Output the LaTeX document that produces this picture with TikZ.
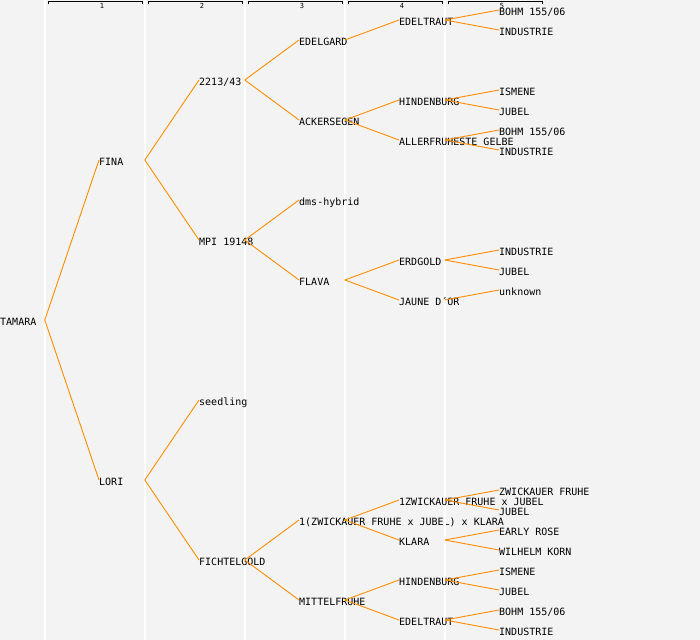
\documentclass[tikz,border=0pt]{standalone}
\usepackage{fontspec}
\newfontfamily\pmono{DejaVu Sans Mono}
\definecolor{bgc}{HTML}{F3F3F3}
\definecolor{lineor}{HTML}{FF8C00}
\tikzset{
  lbl/.style={anchor=west, inner sep=0pt, text height=11.3bp, text depth=0pt, font=\pmono\fontsize{10bp}{12bp}\selectfont},
  hdr/.style={inner sep=0pt, font=\pmono\fontsize{7bp}{8bp}\selectfont},
  edge/.style={draw=lineor, line width=0.9bp},
  colline/.style={draw=white, line width=1.4bp},
  brk/.style={draw=black, line width=0.8bp}
}
\begin{document}
\begin{tikzpicture}[x=1bp,y=-1bp]
\useasboundingbox (0,0) rectangle (700,640);
\fill[bgc] (0,0) rectangle (700,640);
% column coordinates
\coordinate (c0) at (44.8,0);
\coordinate (c1) at (144.8,0);
\coordinate (c2) at (244.8,0);
\coordinate (c3) at (344.8,0);
\coordinate (c4) at (444.8,0);
% header
\foreach \k in {1,...,5}{
  \draw[brk] ({48+100*(\k-1)},4.5) -- ({48+100*(\k-1)},1.5) -- ({142+100*(\k-1)},1.5) -- ({142+100*(\k-1)},4.5);
  \node[hdr] (h\k) at ({102+100*(\k-1)},6.2) {\k};
}
% level 0
\draw[colline] (c0) -- ([yshift=-640bp]c0);
\node[lbl] (tam) at (0,320) {TAMARA};
% level 1
\draw[colline] (c1) -- ([yshift=-640bp]c1);
\node[lbl] (fina) at (99,160) {FINA};
\node[lbl] (lori) at (99,480) {LORI};
% level 2
\draw[colline] (c2) -- ([yshift=-640bp]c2);
\node[lbl] (n2a) at (199,80) {2213/43};
\node[lbl] (mpi) at (199,240) {MPI 19148};
\node[lbl] (seed) at (199,400) {seedling};
\node[lbl] (fich) at (199,560) {FICHTELGOLD};
% level 3
\draw[colline] (c3) -- ([yshift=-640bp]c3);
\node[lbl] (edelg) at (299,40) {EDELGARD};
\node[lbl] (acker) at (299,120) {ACKERSEGEN};
\node[lbl] (dms) at (299,200) {dms-hybrid};
\node[lbl] (flava) at (299,280) {FLAVA};
\node[lbl] (zk) at (299,520) {1(ZWICKAUER FRUHE x JUBEL) x KLARA};
\node[lbl] (mittel) at (299,600) {MITTELFRUHE};
% level 4
\draw[colline] (c4) -- ([yshift=-640bp]c4);
\node[lbl] (edelta) at (399,20) {EDELTRAUT};
\node[lbl] (hinda) at (399,100) {HINDENBURG};
\node[lbl] (aller) at (399,140) {ALLERFRUHESTE GELBE};
\node[lbl] (erd) at (399,260) {ERDGOLD};
\node[lbl] (jaune) at (399,300) {JAUNE D´OR};
\node[lbl] (zj) at (399,500) {1ZWICKAUER FRUHE x JUBEL};
\node[lbl] (klara) at (399,540) {KLARA};
\node[lbl] (hindb) at (399,580) {HINDENBURG};
\node[lbl] (edeltb) at (399,620) {EDELTRAUT};
% level 5
\node[lbl] (bohma) at (499,10) {BOHM 155/06};
\node[lbl] (inda) at (499,30) {INDUSTRIE};
\node[lbl] (isma) at (499,90) {ISMENE};
\node[lbl] (juba) at (499,110) {JUBEL};
\node[lbl] (bohmb) at (499,130) {BOHM 155/06};
\node[lbl] (indb) at (499,150) {INDUSTRIE};
\node[lbl] (indc) at (499,250) {INDUSTRIE};
\node[lbl] (jubb) at (499,270) {JUBEL};
\node[lbl] (unk) at (499,290) {unknown};
\node[lbl] (zf) at (499,490) {ZWICKAUER FRUHE};
\node[lbl] (jubc) at (499,510) {JUBEL};
\node[lbl] (early) at (499,530) {EARLY ROSE};
\node[lbl] (wk) at (499,550) {WILHELM KORN};
\node[lbl] (ismb) at (499,570) {ISMENE};
\node[lbl] (jubd) at (499,590) {JUBEL};
\node[lbl] (bohmc) at (499,610) {BOHM 155/06};
\node[lbl] (indd) at (499,630) {INDUSTRIE};
% connectors
\draw[edge] (c0 |- tam.west) -- (fina.west);
\draw[edge] (c0 |- tam.west) -- (lori.west);
\draw[edge] (c1 |- fina.west) -- (n2a.west);
\draw[edge] (c1 |- fina.west) -- (mpi.west);
\draw[edge] (c1 |- lori.west) -- (seed.west);
\draw[edge] (c1 |- lori.west) -- (fich.west);
\draw[edge] (c2 |- n2a.west) -- (edelg.west);
\draw[edge] (c2 |- n2a.west) -- (acker.west);
\draw[edge] (c2 |- mpi.west) -- (dms.west);
\draw[edge] (c2 |- mpi.west) -- (flava.west);
\draw[edge] (c2 |- fich.west) -- (zk.west);
\draw[edge] (c2 |- fich.west) -- (mittel.west);
\draw[edge] (c3 |- edelg.west) -- (edelta.west);
\draw[edge] (c3 |- acker.west) -- (hinda.west);
\draw[edge] (c3 |- acker.west) -- (aller.west);
\draw[edge] (c3 |- flava.west) -- (erd.west);
\draw[edge] (c3 |- flava.west) -- (jaune.west);
\draw[edge] (c3 |- zk.west) -- (zj.west);
\draw[edge] (c3 |- zk.west) -- (klara.west);
\draw[edge] (c3 |- mittel.west) -- (hindb.west);
\draw[edge] (c3 |- mittel.west) -- (edeltb.west);
\draw[edge] (c4 |- edelta.west) -- (bohma.west);
\draw[edge] (c4 |- edelta.west) -- (inda.west);
\draw[edge] (c4 |- hinda.west) -- (isma.west);
\draw[edge] (c4 |- hinda.west) -- (juba.west);
\draw[edge] (c4 |- aller.west) -- (bohmb.west);
\draw[edge] (c4 |- aller.west) -- (indb.west);
\draw[edge] (c4 |- erd.west) -- (indc.west);
\draw[edge] (c4 |- erd.west) -- (jubb.west);
\draw[edge] (c4 |- jaune.west) -- (unk.west);
\draw[edge] (c4 |- zj.west) -- (zf.west);
\draw[edge] (c4 |- zj.west) -- (jubc.west);
\draw[edge] (c4 |- klara.west) -- (early.west);
\draw[edge] (c4 |- klara.west) -- (wk.west);
\draw[edge] (c4 |- hindb.west) -- (ismb.west);
\draw[edge] (c4 |- hindb.west) -- (jubd.west);
\draw[edge] (c4 |- edeltb.west) -- (bohmc.west);
\draw[edge] (c4 |- edeltb.west) -- (indd.west);
\end{tikzpicture}
\end{document}
